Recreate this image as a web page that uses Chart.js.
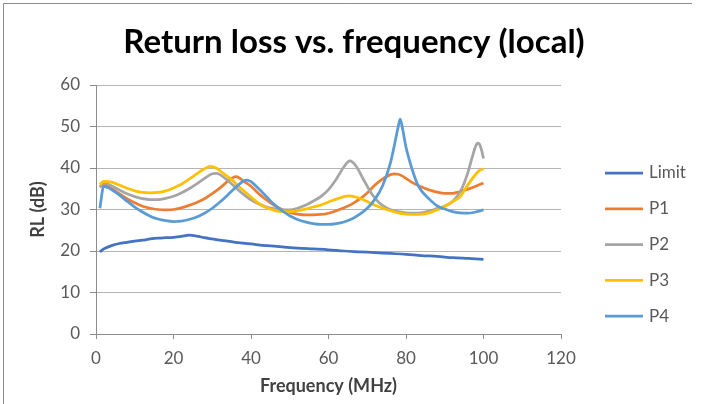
<!DOCTYPE html>
<html>
<head>
<meta charset="utf-8">
<script src="https://cdn.jsdelivr.net/npm/chart.js@4.4.1/dist/chart.umd.min.js"></script>
<style>
  html, body { margin: 0; padding: 0; background: #fff; }
  #wrap { position: relative; width: 702px; height: 404px; }
</style>
</head>
<body>
<div id="wrap"><canvas id="rlChart" width="702" height="404"></canvas></div>
<script>
// series names and colours
const seriesNames = ['Limit', 'P1', 'P2', 'P3', 'P4'];
const seriesColors = ['#4472C4', '#ED7D31', '#A5A5A5', '#FFC000', '#5B9BD5'];

// frequency (MHz) / return loss (dB)
const limitFreq = [1, 2, 4, 6, 8, 10, 12, 14, 16, 18, 20, 22, 24, 26, 28, 30, 32, 34, 36, 38, 40, 44, 48, 52, 56, 60, 64, 68, 72, 76, 80, 84, 88, 92, 96, 100];
const limitRl   = [19.8, 20.5, 21.3, 21.8, 22.1, 22.4, 22.6, 22.9, 23.1, 23.2, 23.3, 23.5, 23.8, 23.6, 23.2, 22.9, 22.6, 22.4, 22.1, 21.9, 21.7, 21.3, 21.0, 20.7, 20.5, 20.3, 20.0, 19.8, 19.6, 19.4, 19.2, 18.9, 18.7, 18.4, 18.2, 18.0];

const p1Freq = [1, 2, 4, 6, 8, 10, 12, 14, 16, 18, 20, 22, 24, 26, 28, 30, 32, 34, 35, 36, 37, 38, 40, 42, 44, 46, 48, 50, 52, 54, 56, 58, 60, 62, 64, 66, 68, 70, 72, 74, 76, 77, 78, 79, 80, 82, 84, 86, 88, 90, 92, 94, 96, 98, 100];
const p1Rl   = [35.4, 36.0, 35.0, 33.8, 32.6, 31.6, 30.8, 30.3, 30.0, 29.9, 30.0, 30.4, 31.0, 31.7, 32.6, 33.8, 35.2, 36.8, 37.5, 37.9, 37.6, 36.9, 35.6, 33.8, 32.3, 31.0, 30.0, 29.3, 28.9, 28.7, 28.7, 28.8, 29.1, 29.7, 30.4, 31.3, 32.5, 34.0, 35.9, 37.4, 38.4, 38.6, 38.5, 38.1, 37.5, 36.3, 35.4, 34.7, 34.2, 33.9, 33.9, 34.3, 34.9, 35.6, 36.4];

const p2Freq = [1, 2, 4, 6, 8, 10, 12, 14, 16, 18, 20, 22, 24, 26, 28, 30, 31, 32, 34, 36, 38, 40, 42, 44, 46, 48, 50, 52, 54, 56, 58, 60, 62, 64, 65.5, 67, 69, 71, 73, 75, 77, 80, 82, 84, 86, 88, 90, 92, 94, 95, 96, 97, 98, 98.5, 99, 99.5, 100];
const p2Rl   = [35.4, 36.4, 35.7, 34.7, 33.8, 33.1, 32.6, 32.4, 32.4, 32.7, 33.2, 34.0, 35.0, 36.2, 37.5, 38.6, 38.7, 38.4, 37.0, 35.3, 33.7, 32.3, 31.3, 30.6, 30.2, 29.9, 29.9, 30.3, 31.0, 32.0, 33.1, 34.8, 37.3, 40.3, 41.7, 40.6, 37.3, 34.0, 31.7, 30.4, 29.7, 29.2, 29.1, 29.2, 29.6, 30.2, 30.8, 31.9, 34.3, 36.3, 39.0, 42.3, 45.3, 46.0, 45.7, 44.3, 42.3];

const p3Freq = [1, 2, 4, 6, 8, 10, 12, 14, 16, 18, 20, 22, 24, 26, 28, 29.5, 31, 33, 35, 37, 40, 42, 44, 46, 48, 50, 52, 54, 56, 58, 60, 62, 64, 65, 66, 68, 70, 72, 74, 76, 78, 80, 83, 86, 88, 90, 92, 94, 96, 98, 99, 100];
const p3Rl   = [36.0, 36.8, 36.6, 35.9, 35.1, 34.5, 34.1, 34.0, 34.1, 34.5, 35.2, 36.1, 37.3, 38.6, 39.8, 40.4, 40.0, 38.6, 37.2, 35.4, 33.0, 31.5, 30.4, 29.8, 29.5, 29.5, 29.7, 30.1, 30.6, 31.1, 31.8, 32.5, 33.1, 33.3, 33.2, 32.7, 31.9, 31.0, 30.3, 29.7, 29.2, 28.9, 28.8, 29.2, 29.9, 30.8, 31.9, 33.1, 36.0, 38.5, 39.4, 39.8];

const p4Freq = [1, 2, 3, 4, 6, 8, 10, 12, 14, 16, 18, 20, 22, 24, 26, 28, 30, 32, 34, 36, 38, 39, 40, 42, 44, 46, 48, 50, 52, 54, 56, 58, 60, 62, 64, 66, 68, 70, 72, 74, 76, 77, 78, 78.5, 79, 80, 81, 82, 83, 84, 86, 88, 90, 92, 94, 96, 98, 100];
const p4Rl   = [30.3, 35.6, 35.3, 34.8, 33.5, 32.0, 30.6, 29.4, 28.4, 27.7, 27.3, 27.1, 27.2, 27.6, 28.2, 29.1, 30.3, 31.8, 33.5, 35.3, 36.8, 37.1, 36.7, 35.0, 33.1, 31.2, 29.7, 28.5, 27.6, 27.0, 26.6, 26.4, 26.4, 26.6, 27.0, 27.7, 28.8, 30.3, 32.5, 35.8, 41.3, 45.5, 50.0, 51.8, 50.0, 45.0, 41.5, 38.5, 36.0, 34.5, 32.5, 30.9, 30.1, 29.5, 29.2, 29.1, 29.4, 29.9];

// axis ticks
const xTicks = [0, 20, 40, 60, 80, 100, 120];
const yTicks = [0, 10, 20, 30, 40, 50, 60];

const freqSets = [limitFreq, p1Freq, p2Freq, p3Freq, p4Freq];
const rlSets = [limitRl, p1Rl, p2Rl, p3Rl, p4Rl];

const textColor = '#595959';
const fontFamily = 'Lato, "DejaVu Sans", sans-serif';

// frame + title + legend drawn on the canvas
const decorPlugin = {
  id: 'decor',
  beforeDraw(chart) {
    const ctx = chart.ctx;
    ctx.save();
    ctx.strokeStyle = '#8c8c8c';
    ctx.lineWidth = 1;
    ctx.beginPath();
    ctx.moveTo(3.5, 404);
    ctx.lineTo(3.5, 3.5);
    ctx.lineTo(692, 3.5);
    ctx.stroke();
    ctx.restore();
  },
  afterDraw(chart) {
    const ctx = chart.ctx;
    ctx.save();
    ctx.fillStyle = '#000';
    ctx.font = 'bold 33px ' + fontFamily;
    ctx.textAlign = 'center';
    ctx.textBaseline = 'middle';
    ctx.fillText('Return loss vs. frequency (local)', 354, 42);

    ctx.font = '17px ' + fontFamily;
    ctx.textAlign = 'left';
    ctx.fillStyle = textColor;
    seriesNames.forEach((name, i) => {
      const y = 173 + i * 35.8;
      ctx.strokeStyle = seriesColors[i];
      ctx.lineWidth = 2.75;
      ctx.beginPath();
      ctx.moveTo(605, y);
      ctx.lineTo(643, y);
      ctx.stroke();
      ctx.fillText(name, 649, y);
    });
    ctx.restore();
  }
};

const datasets = seriesNames.map((name, i) => ({
  label: name,
  data: freqSets[i].map((f, k) => ({ x: f, y: rlSets[i][k] })),
  borderColor: seriesColors[i],
  backgroundColor: seriesColors[i],
  borderWidth: 2.75,
  pointRadius: 0,
  cubicInterpolationMode: 'monotone',
  order: seriesNames.length - i
}));

new Chart(document.getElementById('rlChart').getContext('2d'), {
  type: 'line',
  data: { datasets: datasets },
  options: {
    responsive: false,
    animation: false,
    layout: { padding: { top: 85, right: 141, left: 0, bottom: 0 } },
    plugins: {
      legend: { display: false },
      title: { display: false },
      tooltip: { enabled: false }
    },
    scales: {
      x: {
        type: 'linear',
        min: 0,
        max: 120,
        afterBuildTicks: (scale) => { scale.ticks = xTicks.map(v => ({ value: v })); },
        afterFit: (scale) => { scale.height = 70; },
        ticks: { color: textColor, font: { family: fontFamily, size: 17 }, padding: 9, maxRotation: 0 },
        grid: { drawOnChartArea: false, drawTicks: true, tickLength: 5, color: '#8c8c8c' },
        border: { color: '#8c8c8c' },
        title: {
          display: true,
          text: 'Frequency (MHz)',
          color: '#404040',
          font: { family: fontFamily, size: 18, weight: 'bold' },
          padding: { top: 0, bottom: 7 }
        }
      },
      y: {
        min: 0,
        max: 60,
        afterBuildTicks: (scale) => { scale.ticks = yTicks.map(v => ({ value: v })); },
        afterFit: (scale) => { scale.width = 96; },
        ticks: { color: textColor, font: { family: fontFamily, size: 17 }, padding: 10 },
        grid: { color: '#b4b4b4', tickLength: 6, tickColor: '#8c8c8c' },
        border: { color: '#8c8c8c' },
        title: {
          display: true,
          text: 'RL (dB)',
          color: '#404040',
          font: { family: fontFamily, size: 18, weight: 'bold' },
          padding: { top: 27, bottom: 0 }
        }
      }
    }
  },
  plugins: [decorPlugin]
});
</script>
</body>
</html>
